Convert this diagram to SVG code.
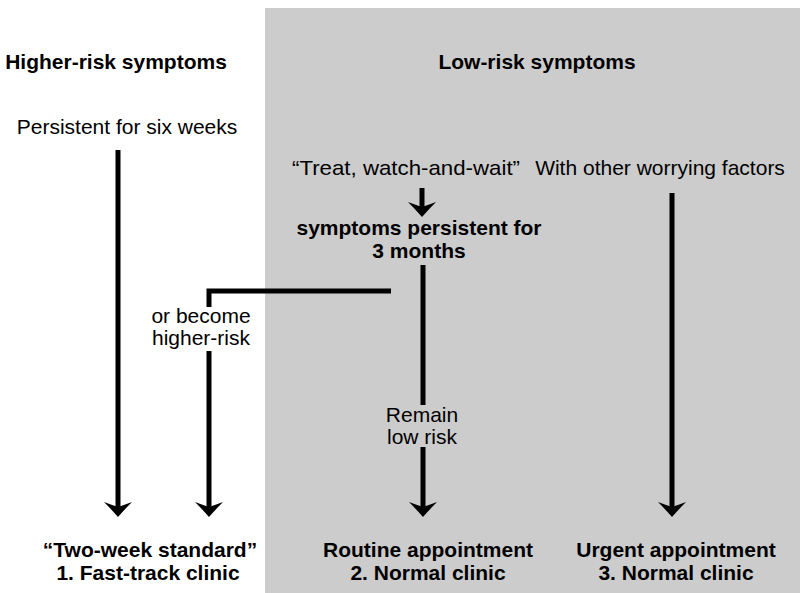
<svg xmlns="http://www.w3.org/2000/svg" width="800" height="593" viewBox="0 0 800 593">
<style>
text{font-family:"Liberation Sans",Arial,Helvetica,sans-serif;font-size:21px;fill:#000;text-anchor:middle}
.b{font-weight:bold}
.ln{stroke:#000;stroke-width:5;fill:none}
.ar{marker-end:url(#ah)}
</style>
<defs>
<marker id="ah" viewBox="-18 -16 20 32" refX="-8" refY="0" markerWidth="20" markerHeight="32" markerUnits="userSpaceOnUse" orient="auto">
<path d="M0,0 Q-8,-7 -15,-14 Q-12,-6 -10,0 Q-12,6 -15,14 Q-8,7 0,0 Z" fill="#000"/>
</marker>
</defs>
<rect x="0" y="0" width="800" height="593" fill="#fff"/>
<rect id="low-risk-panel" x="265" y="8" width="535" height="585" fill="#cccccc"/>
<g id="connectors">
<line class="ln ar" x1="118" y1="150" x2="118" y2="509"/>
<path class="ln" d="M391,291 H209 V307"/>
<line class="ln ar" x1="209" y1="351" x2="209" y2="509"/>
<line class="ln ar" x1="422" y1="188" x2="422" y2="209"/>
<line class="ln" x1="423" y1="265" x2="423" y2="405"/>
<line class="ln ar" x1="423" y1="447" x2="423" y2="509"/>
<line class="ln ar" x1="672" y1="193" x2="672" y2="509"/>
</g>
<g id="higher-risk-heading"><text class="b" x="116" y="69">Higher-risk symptoms</text></g>
<g id="low-risk-heading"><text class="b" x="537" y="69">Low-risk symptoms</text></g>
<g id="persistent-six-weeks"><text x="127" y="134">Persistent for six weeks</text></g>
<g id="treat-watch-wait"><text x="406" y="175" textLength="228" lengthAdjust="spacingAndGlyphs">“Treat, watch-and-wait”</text></g>
<g id="other-worrying-factors"><text x="660" y="175">With other worrying factors</text></g>
<g id="persistent-three-months"><text class="b" x="419" y="235">symptoms persistent for</text><text class="b" x="419" y="258">3 months</text></g>
<g id="become-higher-risk"><text x="201" y="323">or become</text><text x="201" y="345">higher-risk</text></g>
<g id="remain-low-risk"><text x="422" y="422">Remain</text><text x="422" y="444">low risk</text></g>
<g id="fast-track-clinic"><text class="b" x="150" y="557">“Two-week standard”</text><text class="b" x="148" y="580">1. Fast-track clinic</text></g>
<g id="routine-appointment"><text class="b" x="428" y="557">Routine appointment</text><text class="b" x="428" y="580">2. Normal clinic</text></g>
<g id="urgent-appointment"><text class="b" x="676" y="557">Urgent appointment</text><text class="b" x="676" y="580">3. Normal clinic</text></g>
</svg>
